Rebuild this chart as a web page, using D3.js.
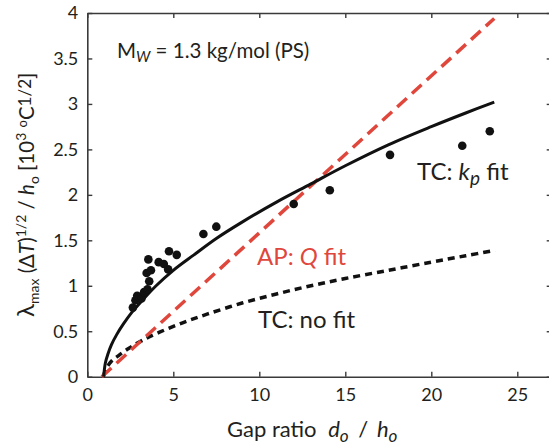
<!DOCTYPE html>
<html>
<head>
<meta charset="utf-8">
<script src="https://d3js.org/d3.v7.min.js"></script>
<style>
  body { margin: 0; background: #fff; }
  text { font-family: Lato, "Liberation Sans", sans-serif; fill: #231f20; }
</style>
</head>
<body>
<div id="chart"></div>
<script>
// measured points
var gapRatio  = [2.65, 2.8, 2.9, 3.15, 3.3, 3.5, 3.6, 3.45, 3.7, 3.55, 4.15, 4.45, 4.7, 4.75, 5.2, 6.75, 7.5, 12, 14.1, 17.6, 21.8, 23.4];
var lambdaVal = [0.76, 0.84, 0.89, 0.86, 0.93, 0.96, 1.05, 1.14, 1.17, 1.29, 1.26, 1.24, 1.18, 1.38, 1.34, 1.57, 1.65, 1.9, 2.05, 2.44, 2.54, 2.70];

// TC: kp fit (solid)
var kpFitX = [0.95, 1.05, 1.2, 1.4, 1.7, 2.1, 2.6, 3.2, 4, 5, 6.2, 7.5, 9, 11, 13, 15, 17.5, 20, 22, 23.66];
var kpFitY = [0, 0.15, 0.25, 0.35, 0.46, 0.58, 0.71, 0.84, 1.0, 1.17, 1.34, 1.52, 1.7, 1.92, 2.12, 2.32, 2.55, 2.75, 2.9, 3.02];

// AP: Q fit (red dashed)
var qFitX = [0.84, 23.66];
var qFitY = [0, 3.94];

// TC: no fit (black dotted)
var noFitX = [0.93, 1.1, 1.4, 1.8, 2.4, 3.2, 4.2, 5.5, 7, 9, 11, 13, 15, 17.5, 20, 22, 23.7];
var noFitY = [0, 0.09, 0.17, 0.23, 0.31, 0.4, 0.49, 0.59, 0.69, 0.81, 0.91, 1.0, 1.08, 1.17, 1.26, 1.33, 1.39];

var xTicks = [0, 5, 10, 15, 20, 25];
var yTicks = [0, 0.5, 1, 1.5, 2, 2.5, 3, 3.5, 4];

var W = 549, H = 446;
var margin = {top: 13, left: 87.3, bottom: 69.3};

var svg = d3.select("#chart").append("svg")
    .attr("width", W)
    .attr("height", H);

var x = d3.scaleLinear().domain([0, 27]).range([margin.left, margin.left + 27 * 17.2]);
var y = d3.scaleLinear().domain([0, 4]).range([H - margin.bottom, margin.top]);

function zip(xs, ys) { return xs.map(function(v, i) { return [v, ys[i]]; }); }

var line = d3.line()
    .x(function(d) { return x(d[0]); })
    .y(function(d) { return y(d[1]); })
    .curve(d3.curveCatmullRom);

// axes, ticks pointing inward
var fmt = function(d) { return String(d); };
var gx = svg.append("g").attr("transform", "translate(0," + y(0) + ")")
    .call(d3.axisBottom(x).tickValues(xTicks).tickFormat(fmt).tickSizeInner(-5).tickSizeOuter(0).tickPadding(12));
var gy = svg.append("g").attr("transform", "translate(" + x(0) + ",0)")
    .call(d3.axisLeft(y).tickValues(yTicks).tickFormat(fmt).tickSizeInner(-5).tickSizeOuter(0).tickPadding(9));
var gt = svg.append("g").attr("transform", "translate(0," + y(4) + ")")
    .call(d3.axisTop(x).tickValues(xTicks).tickFormat("").tickSizeInner(-5).tickSizeOuter(0));
var gr = svg.append("g").attr("transform", "translate(" + x(27) + ",0)")
    .call(d3.axisRight(y).tickValues(yTicks).tickFormat("").tickSizeInner(-5).tickSizeOuter(0));

[gx, gy, gt, gr].forEach(function(g) {
  g.select(".domain").attr("stroke", "#3a3a3a").attr("stroke-width", 1.6);
  g.selectAll(".tick line").attr("stroke", "#3a3a3a").attr("stroke-width", 1.4);
  g.selectAll(".tick text").style("font-family", "Lato, 'Liberation Sans', sans-serif")
    .style("font-size", "18px").attr("fill", "#231f20");
});

// curves
svg.append("path").datum(zip(noFitX, noFitY))
    .attr("d", line).attr("fill", "none").attr("stroke", "#111")
    .attr("stroke-width", 3.5).attr("stroke-dasharray", "7,5");

svg.append("path").datum(zip(qFitX, qFitY))
    .attr("d", line).attr("fill", "none").attr("stroke", "#e0473c")
    .attr("stroke-width", 3.5).attr("stroke-dasharray", "13,7");

svg.append("path").datum(zip(kpFitX, kpFitY))
    .attr("d", line).attr("fill", "none").attr("stroke", "#111")
    .attr("stroke-width", 3);

svg.selectAll(".dot").data(zip(gapRatio, lambdaVal))
  .enter().append("circle")
    .attr("class", "dot")
    .attr("cx", function(d) { return x(d[0]); })
    .attr("cy", function(d) { return y(d[1]); })
    .attr("r", 4.3)
    .attr("fill", "#111");

// annotations
var mw = svg.append("text").attr("x", 117).attr("y", 58).style("font-size", "20.5px");
mw.append("tspan").text("M");
mw.append("tspan").attr("dy", 4).style("font-size", "15px").style("font-style", "italic").text("W");
mw.append("tspan").attr("dy", -4).text(" = 1.3 kg/mol (PS)");

var kp = svg.append("text").attr("x", 417).attr("y", 180).style("font-size", "24px");
kp.append("tspan").text("TC: ");
kp.append("tspan").style("font-style", "italic").text("k");
kp.append("tspan").attr("dy", 5).style("font-size", "19px").style("font-style", "italic").text("p");
kp.append("tspan").attr("dy", -5).text(" fit");

var ap = svg.append("text").attr("x", 257).attr("y", 265).style("font-size", "24px");
ap.append("tspan").attr("fill", "#e0473c").text("AP: ");
ap.append("tspan").attr("fill", "#e0473c").style("font-style", "italic").text("Q");
ap.append("tspan").attr("fill", "#e0473c").text(" fit");

svg.append("text").attr("x", 258).attr("y", 328).style("font-size", "24px").text("TC: no fit");

// x label
var xl = svg.append("text").attr("x", 227).attr("y", 437).style("font-size", "22px");
xl.append("tspan").text("Gap ratio  ");
xl.append("tspan").attr("dx", 6).style("font-style", "italic").text("d");
xl.append("tspan").attr("dy", 5).style("font-size", "17px").style("font-style", "italic").text("o");
xl.append("tspan").attr("dy", -5).attr("dx", 4).text(" / ");
xl.append("tspan").attr("dx", 3).style("font-style", "italic").text("h");
xl.append("tspan").attr("dy", 5).style("font-size", "17px").style("font-style", "italic").text("o");

// y label
var yl = svg.append("text")
    .attr("transform", "translate(34," + ((y(0) + y(4)) / 2) + ") rotate(-90)")
    .attr("text-anchor", "middle")
    .style("font-size", "20.5px");
yl.append("tspan").style("font-size", "24px").text("\u03bb");
yl.append("tspan").attr("dy", 5).style("font-size", "14px").text("max");
yl.append("tspan").attr("dy", -5).text(" (\u0394");
yl.append("tspan").style("font-style", "italic").text("T");
yl.append("tspan").text(")");
yl.append("tspan").attr("dy", -8).style("font-size", "14px").text("1/2");
yl.append("tspan").attr("dy", 8).text(" / ");
yl.append("tspan").style("font-style", "italic").text("h");
yl.append("tspan").attr("dy", 5).style("font-size", "14px").text("o");
yl.append("tspan").attr("dy", -5).text("  [10");
yl.append("tspan").attr("dy", -8).style("font-size", "14px").text("3");
yl.append("tspan").attr("dy", 8).text(" ");
yl.append("tspan").attr("dy", -7).style("font-size", "13px").text("o");
yl.append("tspan").attr("dy", 7).text("C");
yl.append("tspan").attr("dy", -3).style("font-size", "17px").text("1/2");
yl.append("tspan").attr("dy", 3).text("]");
</script>
</body>
</html>
